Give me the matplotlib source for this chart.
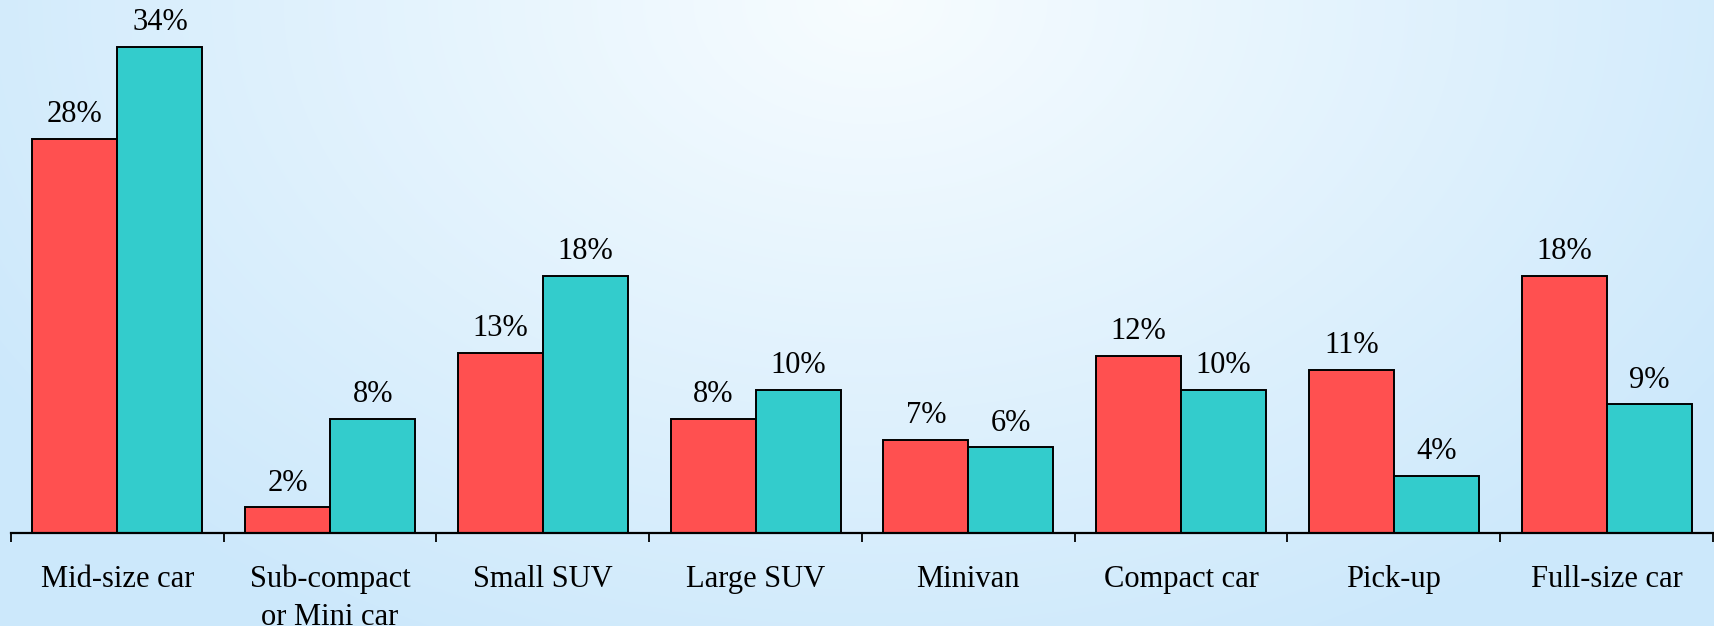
import numpy as np
import matplotlib.pyplot as plt

# car types and the two series (percent)
categories = ['Mid-size car', 'Sub-compact\nor Mini car', 'Small SUV', 'Large SUV',
              'Minivan', 'Compact car', 'Pick-up', 'Full-size car']
red_vals = [27.6, 1.8, 12.6, 8.0, 6.5, 12.4, 11.4, 18.0]
teal_vals = [34.0, 8.0, 18.0, 10.0, 6.0, 10.0, 4.0, 9.0]
red_labels = ['28%', '2%', '13%', '8%', '7%', '12%', '11%', '18%']
teal_labels = ['34%', '8%', '18%', '10%', '6%', '10%', '4%', '9%']

plt.rcParams['font.family'] = ['Liberation Serif', 'DejaVu Serif']

fig = plt.figure(figsize=(17.15, 6.26), dpi=100)

# radial background, lightest at top centre
bg = fig.add_axes([0, 0, 1, 1], zorder=-10)
yy, xx = np.mgrid[0:626, 0:1715]
r = np.sqrt(((xx - 870) / 1.1) ** 2 + (yy * 1.3) ** 2) / 950.0
r = np.clip(r, 0, 1)
inner = np.array([0.97, 0.99, 1.0])
outer = np.array([0.80, 0.91, 0.985])
img = inner[None, None, :] * (1 - r[..., None]) + outer[None, None, :] * r[..., None]
bg.imshow(img, aspect='auto', extent=[0, 1, 0, 1], origin='upper')
bg.axis('off')

ax = fig.add_axes([11 / 1715, 93 / 626, (1713 - 11) / 1715, 533 / 626])
ax.patch.set_alpha(0)

x = np.arange(len(categories))
w = 0.4
b1 = ax.bar(x - w / 2, red_vals, w, color='#FF5050', edgecolor='black', linewidth=1.4)
b2 = ax.bar(x + w / 2, teal_vals, w, color='#33CCCC', edgecolor='black', linewidth=1.4)

for bars, labs in ((b1, red_labels), (b2, teal_labels)):
    for rect, lab in zip(bars, labs):
        ax.annotate(lab, (rect.get_x() + rect.get_width() / 2, rect.get_height()),
                    xytext=(0, 12), textcoords='offset points',
                    ha='center', va='baseline', fontsize=22)

ax.set_xlim(-0.5, len(categories) - 0.5)
ax.set_ylim(0, 37.3)
for s in ('top', 'right', 'left'):
    ax.spines[s].set_visible(False)
ax.spines['bottom'].set_linewidth(1.6)
ax.set_yticks([])

ax.set_xticks(x)
ax.set_xticklabels(categories, fontsize=22, linespacing=1.38)
ax.tick_params(axis='x', which='major', length=0, pad=23)
ax.set_xticks(np.arange(-0.5, len(categories)), minor=True)
ax.tick_params(axis='x', which='minor', length=6.5, width=1.3, direction='out')

fig.savefig('out.png', dpi=100)
